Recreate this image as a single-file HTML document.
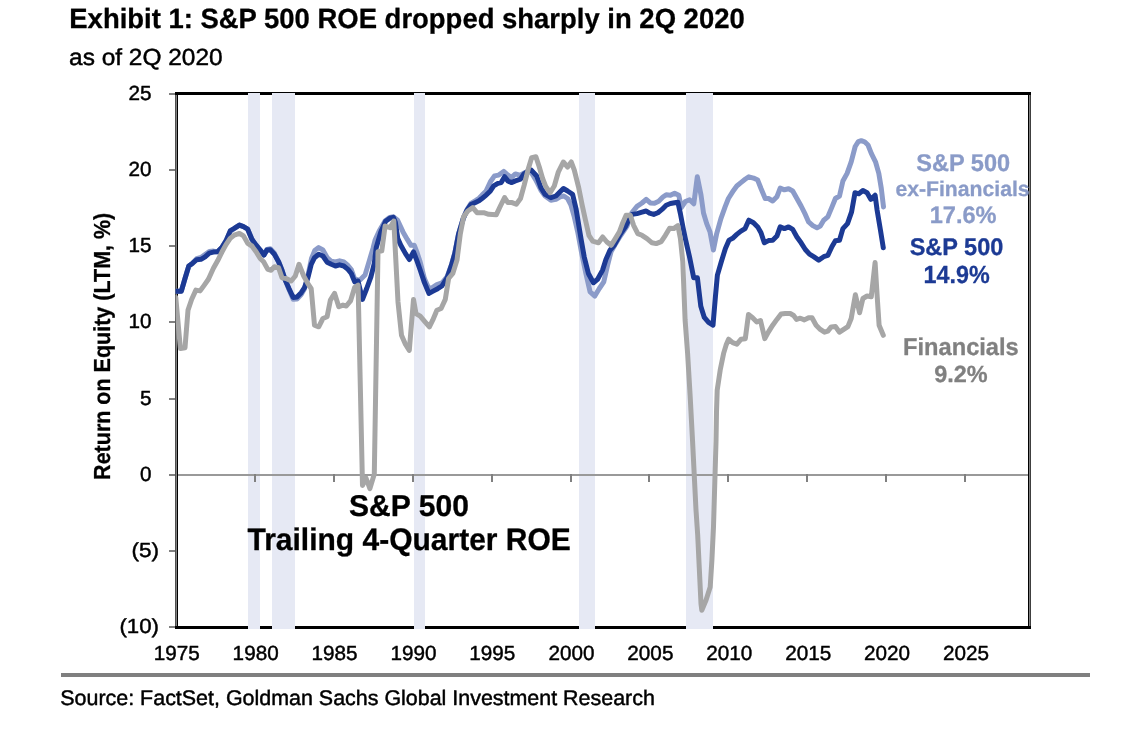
<!DOCTYPE html>
<html lang="en"><head><meta charset="utf-8"><title>Exhibit 1: S&amp;P 500 ROE dropped sharply in 2Q 2020</title>
<style>
html,body{margin:0;padding:0;background:#fff;}
body{width:1128px;height:730px;overflow:hidden;}
svg{display:block;}
text{font-family:"Liberation Sans",sans-serif;white-space:pre;text-rendering:geometricPrecision;}
.ln{fill:none;stroke-linejoin:round;stroke-linecap:round;}
</style></head><body>
<svg width="1128" height="730" viewBox="0 0 1128 730">
<rect x="0" y="0" width="1128" height="730" fill="#ffffff"/>
<g id="frame">
<rect x="175" y="92" width="1" height="537" fill="#505050"/>
<rect x="176" y="92" width="1" height="537" fill="#808080"/>
<rect x="177" y="92" width="1" height="537" fill="#000"/>
<rect x="1028" y="92" width="1" height="537" fill="#000"/>
<rect x="1029" y="92" width="1" height="537" fill="#808080"/>
<rect x="1030" y="92" width="1" height="537" fill="#404040"/>
<rect x="175" y="92" width="856" height="3" fill="#000"/>
<rect x="175" y="626" width="856" height="3" fill="#000"/>
</g>
<g id="bands" fill="#e6e9f4">
<rect x="248" y="93" width="12" height="536"/>
<rect x="272" y="93" width="23" height="536"/>
<rect x="414" y="93" width="11" height="536"/>
<rect x="579" y="93" width="16" height="536"/>
<rect x="686" y="93" width="27" height="536"/>
</g>
<g id="axis">
<rect x="178" y="474" width="850" height="2" fill="#999999"/>
<rect x="254" y="474" width="2" height="8" fill="#808080"/>
<rect x="333" y="474" width="2" height="8" fill="#808080"/>
<rect x="412" y="474" width="2" height="8" fill="#808080"/>
<rect x="491" y="474" width="2" height="8" fill="#808080"/>
<rect x="570" y="474" width="2" height="8" fill="#808080"/>
<rect x="648" y="474" width="2" height="8" fill="#808080"/>
<rect x="727" y="474" width="2" height="8" fill="#808080"/>
<rect x="806" y="474" width="2" height="8" fill="#808080"/>
<rect x="885" y="474" width="2" height="8" fill="#808080"/>
<rect x="964" y="474" width="2" height="8" fill="#808080"/>
<rect x="169" y="93" width="6" height="2" fill="#808080"/>
<rect x="169" y="169" width="6" height="2" fill="#808080"/>
<rect x="169" y="245" width="6" height="2" fill="#808080"/>
<rect x="169" y="321" width="6" height="2" fill="#808080"/>
<rect x="169" y="398" width="6" height="2" fill="#808080"/>
<rect x="169" y="474" width="6" height="2" fill="#808080"/>
<rect x="169" y="550" width="6" height="2" fill="#808080"/>
<rect x="169" y="626" width="6" height="2" fill="#808080"/>
</g>
<defs><clipPath id="pc"><rect x="175.6" y="95" width="852.4" height="531"/></clipPath></defs>
<polyline class="ln" stroke="#8b9bc9" stroke-width="5" clip-path="url(#pc)" points="175.5,291.3 181.3,291.3 185.0,278.5 188.8,266.0 192.6,263.2 196.7,258.7 200.9,257.5 205.1,254.5 209.3,251.5 213.4,251.1 217.6,251.8 221.8,247.6 226.0,240.9 230.2,231.8 234.3,228.4 239.4,225.1 243.5,226.7 247.7,229.2 251.9,239.3 256.1,245.1 260.2,250.1 263.9,255.1 266.9,249.5 270.3,248.8 274.4,253.3 278.6,261.8 282.0,270.2 285.3,280.2 289.0,289.6 293.2,299.3 297.0,299.0 301.2,294.5 304.5,288.7 307.9,275.7 311.5,258.5 314.7,250.6 318.7,247.6 322.9,250.0 327.1,257.5 331.3,261.3 335.4,262.0 339.6,260.8 343.8,262.0 348.0,265.5 351.3,269.5 354.7,279.0 358.0,280.0 360.0,280.1 365.0,275.1 369.5,260.1 373.0,248.4 375.1,240.0 379.2,231.0 385.0,221.0 389.6,217.4 393.5,216.8 397.6,220.2 403.0,231.9 407.3,239.4 411.0,245.3 414.3,245.3 416.8,251.9 420.2,262.0 424.4,278.5 428.8,288.5 432.0,287.8 436.9,284.6 441.9,283.0 447.2,276.5 451.5,264.5 454.8,253.0 458.6,233.6 463.3,218.0 467.0,209.5 471.0,203.3 475.5,200.6 479.0,198.3 482.0,195.1 486.2,190.9 490.4,181.8 494.5,175.9 498.7,175.1 503.7,171.4 507.9,175.1 511.3,177.6 515.4,173.9 520.5,175.4 523.8,173.0 528.0,171.5 531.3,172.5 535.9,180.1 540.9,190.2 545.1,196.0 550.9,200.2 555.9,199.4 560.1,196.8 563.8,196.0 567.6,198.5 571.0,205.2 574.3,216.9 577.7,231.9 581.7,253.4 585.9,273.5 590.1,291.9 594.8,296.0 599.3,288.5 603.8,281.8 607.6,265.1 611.0,251.8 614.3,246.0 620.3,236.0 627.0,226.1 632.0,212.5 637.0,206.4 642.0,203.0 646.2,199.3 650.3,202.9 654.5,203.2 658.7,201.2 662.9,197.0 666.2,194.8 670.4,195.3 674.6,193.2 678.8,195.3 681.3,207.5 685.4,201.5 689.6,199.8 693.8,203.8 697.3,176.8 701.0,195.0 703.5,213.0 706.7,223.6 710.0,231.9 713.4,250.0 716.7,233.6 720.9,218.6 725.1,206.9 728.4,198.5 732.6,191.8 736.8,186.0 740.9,182.6 745.1,179.3 748.8,176.8 753.5,178.1 757.7,180.1 761.0,188.5 765.2,198.5 768.5,198.5 772.7,201.0 776.9,196.8 780.2,188.2 784.4,189.8 788.6,188.8 792.7,191.0 796.9,198.5 801.1,206.0 805.3,214.4 808.6,221.9 812.8,225.6 817.0,227.8 820.3,226.1 823.7,220.2 827.8,216.9 832.0,206.9 835.4,198.5 839.5,196.0 842.9,181.0 847.1,173.4 851.2,161.8 855.2,146.5 858.3,141.7 861.3,140.7 864.6,141.8 868.0,145.0 871.3,153.4 875.5,161.8 878.8,173.4 881.3,188.5 883.5,206.9"/>
<polyline class="ln" stroke="#1c3a94" stroke-width="5" clip-path="url(#pc)" points="175.5,291.3 181.3,291.3 185.0,278.5 188.8,266.0 192.6,263.2 196.7,259.7 200.9,259.3 205.1,256.8 209.3,253.1 213.4,252.1 217.6,251.8 221.8,247.6 226.0,240.9 230.3,230.6 234.3,228.4 239.4,225.1 243.5,226.7 247.7,229.2 251.9,239.3 256.1,245.1 260.2,250.1 263.9,255.1 266.9,250.1 270.3,249.8 274.4,254.3 278.6,261.8 282.0,270.2 285.3,280.2 289.0,288.6 293.2,297.5 297.0,297.0 301.2,292.7 304.5,287.7 307.9,277.7 311.2,264.3 314.5,257.7 318.7,254.3 322.9,256.0 327.1,262.2 331.3,264.3 335.4,266.0 339.6,264.8 343.8,266.0 348.0,269.4 351.3,273.5 354.7,281.9 358.0,281.0 362.5,299.4 366.7,288.5 370.9,276.8 374.3,263.4 376.2,247.7 380.8,232.0 385.6,221.3 389.8,218.2 393.3,217.3 395.4,222.5 397.8,238.6 400.8,245.2 405.5,253.6 409.3,259.5 413.5,251.9 416.8,260.3 420.2,270.0 424.4,282.6 429.0,293.4 433.6,290.9 437.7,288.7 441.9,286.0 447.2,277.6 451.5,265.1 454.8,253.4 458.6,234.0 463.3,218.5 467.0,210.2 471.0,204.5 475.5,202.4 479.0,200.8 482.0,198.5 486.2,195.1 490.4,190.9 493.7,185.9 497.9,183.4 501.2,182.6 504.6,176.7 507.9,180.9 511.3,182.6 515.4,180.9 520.5,179.2 523.8,174.2 528.0,170.9 531.3,170.1 536.7,176.0 540.9,187.7 545.1,194.3 550.9,197.7 555.9,196.0 560.1,191.8 563.4,188.5 567.6,191.0 572.6,194.3 576.0,208.5 578.5,223.6 581.0,238.6 584.2,256.8 588.4,273.5 593.4,282.7 597.6,279.3 602.6,270.1 606.0,259.3 610.1,250.1 614.3,245.1 620.2,234.2 625.3,226.9 628.6,220.2 632.0,214.4 637.0,213.6 642.0,212.2 646.2,211.0 649.5,213.2 653.7,214.4 657.9,212.7 662.0,209.4 666.2,205.2 670.4,203.5 674.6,202.7 677.9,202.2 680.4,213.6 682.9,226.9 685.3,238.4 689.5,256.8 693.7,277.7 697.4,277.7 700.8,306.3 704.3,317.4 708.6,322.3 713.0,325.2 715.4,296.9 717.4,275.1 721.3,261.8 725.4,248.4 729.1,240.1 732.6,238.3 736.8,234.4 740.9,231.1 745.1,228.6 748.8,220.2 753.5,222.7 757.7,226.9 761.0,232.8 764.3,242.8 768.5,240.6 772.7,240.3 776.9,236.1 780.2,226.9 784.4,228.6 788.6,226.9 792.7,229.4 796.9,237.0 801.1,242.8 805.3,249.5 809.5,254.2 813.6,256.7 818.7,260.1 823.7,256.7 827.8,255.4 832.0,246.5 835.4,240.8 839.5,240.3 842.9,228.6 847.5,223.6 851.6,211.9 855.0,192.7 858.8,193.8 862.9,190.5 867.1,192.7 870.8,199.4 875.1,195.2 877.1,210.2 880.5,230.3 883.3,247.8"/>
<polyline class="ln" stroke="#a6a6a6" stroke-width="5" clip-path="url(#pc)" points="175.8,297.6 180.4,348.6 185.0,347.7 188.0,310.1 191.7,299.3 195.9,290.1 200.1,290.9 204.3,285.1 208.4,279.2 213.4,268.3 217.6,260.8 221.8,252.3 226.0,244.6 230.2,238.4 234.3,235.1 239.4,233.4 243.5,235.9 247.7,243.4 251.9,246.0 256.1,251.8 260.2,258.5 263.6,261.8 267.8,269.4 271.1,270.2 274.4,266.8 278.6,267.7 282.0,277.7 286.1,278.5 291.2,281.0 295.3,276.0 299.0,264.3 303.7,276.0 307.9,283.6 311.2,288.6 314.5,325.2 318.7,326.8 322.9,318.5 327.1,316.8 330.4,300.1 334.6,293.4 338.8,306.8 343.0,305.1 346.3,306.0 350.5,300.9 354.7,287.3 358.1,285.2 362.5,485.5 366.0,478.0 369.9,488.6 374.3,474.0 378.0,251.7 381.8,250.9 385.1,226.0 390.1,227.7 393.8,221.0 398.0,301.9 401.5,335.3 405.1,343.6 409.3,350.3 413.5,299.4 416.0,313.6 420.2,316.1 424.4,321.1 429.4,326.9 432.7,320.2 436.9,310.2 441.1,308.5 445.3,299.4 448.6,278.5 452.8,273.4 457.0,260.1 460.3,234.0 463.6,216.8 467.8,211.0 472.8,207.7 477.0,212.7 483.7,212.7 488.7,214.3 496.2,214.8 500.4,206.0 504.6,197.6 507.9,202.6 512.1,202.6 516.3,204.3 520.5,198.5 524.2,185.1 528.4,168.4 531.7,157.6 535.9,156.7 539.2,166.8 542.6,178.5 545.9,186.8 550.1,192.7 554.3,186.0 558.4,171.8 563.3,162.0 567.6,167.0 571.3,162.0 574.3,170.1 578.5,186.8 582.2,205.2 585.5,220.2 588.9,235.3 592.7,241.1 598.5,242.8 602.7,237.0 606.9,242.0 611.1,245.3 615.3,238.6 619.4,231.9 622.8,222.7 626.1,215.2 630.3,215.2 633.6,225.3 637.8,233.6 642.0,235.3 647.0,238.6 652.0,242.8 656.2,243.6 661.2,241.6 665.4,235.3 669.6,228.3 673.7,228.6 677.9,225.6 680.4,238.6 682.8,261.8 685.1,320.0 687.6,353.4 690.1,395.2 692.6,442.0 696.0,510.0 697.7,535.1 699.3,568.5 701.0,603.6 701.8,610.3 706.0,600.2 710.2,586.9 711.9,560.1 713.5,526.7 716.0,442.0 716.5,411.9 717.2,390.2 720.2,370.1 723.6,353.4 726.1,345.1 728.6,339.2 732.7,342.6 736.9,344.2 741.1,339.2 745.3,338.7 748.5,314.4 752.6,317.7 756.8,321.9 760.5,320.5 764.8,338.6 768.5,331.9 772.7,325.2 776.9,319.4 781.1,313.9 785.2,313.5 790.2,313.5 793.6,315.5 796.6,319.4 800.3,318.2 804.4,319.9 808.6,317.7 812.0,317.7 816.1,325.2 820.3,329.4 824.5,332.2 827.8,331.1 831.2,326.9 835.4,326.6 839.5,332.2 843.7,329.4 847.9,326.6 851.2,318.5 855.4,294.8 859.6,312.7 862.9,298.5 867.1,296.0 871.3,296.8 875.1,262.6 877.1,295.1 879.1,325.2 883.3,335.3"/>
<text transform="translate(71.15,28) scale(0.9860,1)" x="-1.88" y="0" font-size="27.85" font-weight="bold" fill="#000" stroke="#000" stroke-width="0.3" stroke-linejoin="round">Exhibit 1: S&amp;P 500 ROE dropped sharply in 2Q 2020</text>
<text transform="translate(70.12,65) scale(1.0478,1)" x="-0.99" y="0" font-size="23.33" fill="#000" stroke="#000" stroke-width="0.45" stroke-linejoin="round">as of 2Q 2020</text>
<text transform="translate(61.23,705) scale(1.0118,1)" x="-0.95" y="0" font-size="21.20" fill="#000" stroke="#000" stroke-width="0.45" stroke-linejoin="round">Source: FactSet, Goldman Sachs Global Investment Research</text>
<text transform="translate(129.47,100) scale(1.0091,1)" x="-1.03" y="0" font-size="20.50" fill="#000" stroke="#000" stroke-width="0.45" stroke-linejoin="round">25</text>
<text transform="translate(129.42,176) scale(1.0091,1)" x="-1.03" y="0" font-size="20.50" fill="#000" stroke="#000" stroke-width="0.45" stroke-linejoin="round">20</text>
<text transform="translate(129.99,252) scale(1.0091,1)" x="-1.54" y="0" font-size="20.50" fill="#000" stroke="#000" stroke-width="0.45" stroke-linejoin="round">15</text>
<text transform="translate(129.94,328) scale(1.0091,1)" x="-1.54" y="0" font-size="20.50" fill="#000" stroke="#000" stroke-width="0.45" stroke-linejoin="round">10</text>
<text transform="translate(140.75,405) scale(1.0091,1)" x="-0.82" y="0" font-size="20.50" fill="#000" stroke="#000" stroke-width="0.45" stroke-linejoin="round">5</text>
<text transform="translate(140.70,481) scale(1.0091,1)" x="-0.82" y="0" font-size="20.50" fill="#000" stroke="#000" stroke-width="0.45" stroke-linejoin="round">0</text>
<text transform="translate(132.82,557) scale(1.1000,1)" x="-1.28" y="0" font-size="20.50" fill="#000" stroke="#000" stroke-width="0.45" stroke-linejoin="round">(5)</text>
<text transform="translate(120.82,633) scale(1.0847,1)" x="-1.28" y="0" font-size="20.50" fill="#000" stroke="#000" stroke-width="0.45" stroke-linejoin="round">(10)</text>
<text transform="translate(155.31,660) scale(1.0091,1)" x="-1.54" y="0" font-size="20.50" fill="#000" stroke="#000" stroke-width="0.45" stroke-linejoin="round">1975</text>
<text transform="translate(234.17,660) scale(1.0091,1)" x="-1.54" y="0" font-size="20.50" fill="#000" stroke="#000" stroke-width="0.45" stroke-linejoin="round">1980</text>
<text transform="translate(313.09,660) scale(1.0091,1)" x="-1.54" y="0" font-size="20.50" fill="#000" stroke="#000" stroke-width="0.45" stroke-linejoin="round">1985</text>
<text transform="translate(391.95,660) scale(1.0091,1)" x="-1.54" y="0" font-size="20.50" fill="#000" stroke="#000" stroke-width="0.45" stroke-linejoin="round">1990</text>
<text transform="translate(470.87,660) scale(1.0091,1)" x="-1.54" y="0" font-size="20.50" fill="#000" stroke="#000" stroke-width="0.45" stroke-linejoin="round">1995</text>
<text transform="translate(549.48,660) scale(1.0091,1)" x="-1.03" y="0" font-size="20.50" fill="#000" stroke="#000" stroke-width="0.45" stroke-linejoin="round">2000</text>
<text transform="translate(628.39,660) scale(1.0091,1)" x="-1.03" y="0" font-size="20.50" fill="#000" stroke="#000" stroke-width="0.45" stroke-linejoin="round">2005</text>
<text transform="translate(707.26,660) scale(1.0091,1)" x="-1.03" y="0" font-size="20.50" fill="#000" stroke="#000" stroke-width="0.45" stroke-linejoin="round">2010</text>
<text transform="translate(786.17,660) scale(1.0091,1)" x="-1.03" y="0" font-size="20.50" fill="#000" stroke="#000" stroke-width="0.45" stroke-linejoin="round">2015</text>
<text transform="translate(865.04,660) scale(1.0091,1)" x="-1.03" y="0" font-size="20.50" fill="#000" stroke="#000" stroke-width="0.45" stroke-linejoin="round">2020</text>
<text transform="translate(943.95,660) scale(1.0091,1)" x="-1.03" y="0" font-size="20.50" fill="#000" stroke="#000" stroke-width="0.45" stroke-linejoin="round">2025</text>
<text transform="translate(916.95,171) scale(0.9755,1)" x="-0.72" y="0" font-size="24.16" font-weight="bold" fill="#8a9bc8" stroke="#8a9bc8" stroke-width="0.3" stroke-linejoin="round">S&amp;P 500</text>
<text transform="translate(896.25,196) scale(1.0009,1)" x="-0.85" y="0" font-size="21.16" font-weight="bold" fill="#8a9bc8" stroke="#8a9bc8" stroke-width="0.3" stroke-linejoin="round">ex-Financials</text>
<text transform="translate(931.15,223) scale(0.9880,1)" x="-1.49" y="0" font-size="23.87" font-weight="bold" fill="#8a9bc8" stroke="#8a9bc8" stroke-width="0.3" stroke-linejoin="round">17.6%</text>
<text transform="translate(910.35,255) scale(0.9792,1)" x="-0.72" y="0" font-size="24.01" font-weight="bold" fill="#1c3a94" stroke="#1c3a94" stroke-width="0.3" stroke-linejoin="round">S&amp;P 500</text>
<text transform="translate(925.05,283) scale(0.9448,1)" x="-1.55" y="0" font-size="24.73" font-weight="bold" fill="#1c3a94" stroke="#1c3a94" stroke-width="0.3" stroke-linejoin="round">14.9%</text>
<text transform="translate(904.65,355) scale(0.9765,1)" x="-1.63" y="0" font-size="24.22" font-weight="bold" fill="#808080" stroke="#808080" stroke-width="0.3" stroke-linejoin="round">Financials</text>
<text transform="translate(934.95,382) scale(1.0065,1)" x="-0.82" y="0" font-size="23.30" font-weight="bold" fill="#808080" stroke="#808080" stroke-width="0.3" stroke-linejoin="round">9.2%</text>
<text transform="translate(349.85,516) scale(1.0024,1)" x="-0.90" y="0" font-size="30.04" font-weight="bold" fill="#000" stroke="#000" stroke-width="0.3" stroke-linejoin="round">S&amp;P 500</text>
<text transform="translate(247.75,550) scale(0.9618,1)" x="-0.31" y="0" font-size="31.20" font-weight="bold" fill="#000" stroke="#000" stroke-width="0.3" stroke-linejoin="round">Trailing 4-Quarter ROE</text>
<text transform="translate(110,478.45) rotate(-90) scale(0.9274,1)" x="-1.57" y="0" font-size="23.20" font-weight="bold" fill="#000" stroke="#000" stroke-width="0.3" stroke-linejoin="round">Return on Equity (LTM, %)</text>
<rect x="61" y="673" width="1029" height="4" fill="#7f7f7f"/>
</svg>
</body></html>
